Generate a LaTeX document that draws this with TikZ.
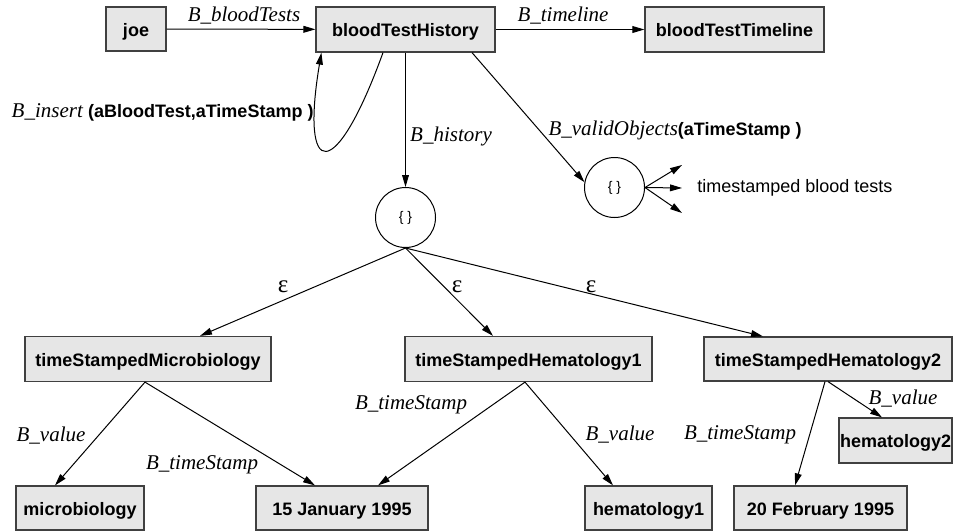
\documentclass[tikz,border=0pt]{standalone}
\usepackage{fontspec}
\newfontfamily\lsans{Liberation Sans}
\newfontfamily\lserif{Liberation Serif}
\usetikzlibrary{arrows.meta,calc}
\definecolor{boxfill}{HTML}{E6E6E6}
\definecolor{boxline}{HTML}{404040}
\begin{document}
\begin{tikzpicture}[x=0.5pt,y=-0.5pt,
  box/.style={draw=boxline, fill=boxfill, line width=0.6pt, inner sep=0pt,
    text height=7pt, text depth=0pt,
    font=\lsans\bfseries\fontsize{9}{11}\selectfont},
  circ/.style={circle, draw, line width=0.5pt, minimum size=30pt, inner sep=0pt,
    font=\lsans\fontsize{7}{8}\selectfont},
  arr/.style={-{Triangle[length=6pt,width=3.4pt]}, line width=0.5pt},
  lbl/.style={font=\lserif\itshape\fontsize{10.5}{12}\selectfont, inner sep=0pt},
  eps/.style={font=\lserif\fontsize{12.5}{14}\selectfont, inner sep=0pt},
  plain/.style={font=\lsans\fontsize{9}{11}\selectfont, inner sep=0pt}]
\useasboundingbox (0,0) rectangle (961,531);

% boxes
\node[box, minimum width=30pt,   minimum height=22pt]   (joe)   at (136,29)    {joe};
\node[box, minimum width=89.5pt, minimum height=22.5pt] (bth)   at (405.5,29.5) {bloodTestHistory};
\node[box, minimum width=89.5pt, minimum height=22.5pt] (btt)   at (734.5,29.5) {bloodTestTimeline};
\node[circ] (c1) at (405.5,217.5) {\{ \}};
\node[circ] (c2) at (614.5,187.5) {\{ \}};
\node[box, minimum width=123pt,  minimum height=22.5pt] (tsm)   at (148,359)   {timeStampedMicrobiology};
\node[box, minimum width=123.5pt,minimum height=22.5pt] (tsh1)  at (528.5,359) {timeStampedHematology1};
\node[box, minimum width=124pt,  minimum height=22pt]   (tsh2)  at (828,359)   {timeStampedHematology2};
\node[box, minimum width=64pt,   minimum height=22pt]   (micro) at (80,508)    {microbiology};
\node[box, minimum width=86pt,   minimum height=22pt]   (jan)   at (342,508)   {15 January 1995};
\node[box, minimum width=63.5pt, minimum height=22pt]   (hem1)  at (648.5,508) {hematology1};
\node[box, minimum width=86.5pt, minimum height=22pt]   (feb)   at (820.5,508) {20 February 1995};
\node[box, minimum width=56.5pt, minimum height=22.5pt] (hem2)  at (895.5,440.5) {hematology2};

% top connectors
\draw[arr] (joe) -- (bth) node[lbl] at (244,16) {B\_bloodTests};
\draw[arr] (bth) -- (btt) node[lbl] at (563,16) {B\_timeline};
\draw[arr] ($(bth.south)+(-22.5,0)$) .. controls (335,185) and (300,180) .. ($(bth.south west)+(6,0)$)
  node[lbl, anchor=east] at (314,112) {B\_insert {\lsans\bfseries\upshape\fontsize{9}{11}\selectfont (aBloodTest,aTimeStamp~)}};
\draw[arr] (bth) -- (c1) node[lbl] at (451,136) {B\_history};
\draw[arr] ($(bth.south)+(66.5,0)$) -- (c2.170)
  node[lbl, anchor=west] at (548,130) {B\_validObjects{\lsans\bfseries\upshape\fontsize{9}{11}\selectfont (aTimeStamp~)}};

% result set arrows
\coordinate (t1) at (682,165);
\coordinate (t2) at (682,188);
\coordinate (t3) at (682,213);
\draw[arr] (c2.east) -- (t1);
\draw[arr] (c2.east) -- (t2);
\draw[arr] (c2.east) -- (t3);
\node[plain, anchor=west] (tbt) at (697,188) {timestamped blood tests};

% epsilon edges
\draw[arr] (c1.south) -- ($(tsm.north)+(52,0)$) node[eps] at (283,287) {ε};
\draw[arr] (c1.south) -- ($(tsh1.north)+(-35.5,0)$) node[eps] at (457,287) {ε};
\draw[arr] (c1.south) -- ($(tsh2.north)+(-65,0)$) node[eps] at (591,287) {ε};

% bottom edges
\draw[arr] ($(tsm.south)+(-3,0)$) -- ($(micro.north)+(-25,0)$) node[lbl] at (51,436) {B\_value};
\draw[arr] ($(tsm.south)+(-3,0)$) -- ($(jan.north)+(-27,0)$) node[lbl] at (202,465) {B\_timeStamp};
\draw[arr] ($(tsh1.south)+(-3.5,0)$) -- ($(jan.north)+(36,0)$) node[lbl] at (411,405) {B\_timeStamp};
\draw[arr] ($(tsh1.south)+(-3.5,0)$) -- ($(hem1.north)+(-35.5,0)$) node[lbl] at (620,435) {B\_value};
\draw[arr] ($(tsh2.south)+(-3,0)$) -- ($(feb.north)+(-25.5,0)$) node[lbl] at (740,435) {B\_timeStamp};
\draw[arr] (tsh2.south) -- ($(hem2.north)+(-13.5,0)$) node[lbl] at (903,399) {B\_value};
\end{tikzpicture}
\end{document}
